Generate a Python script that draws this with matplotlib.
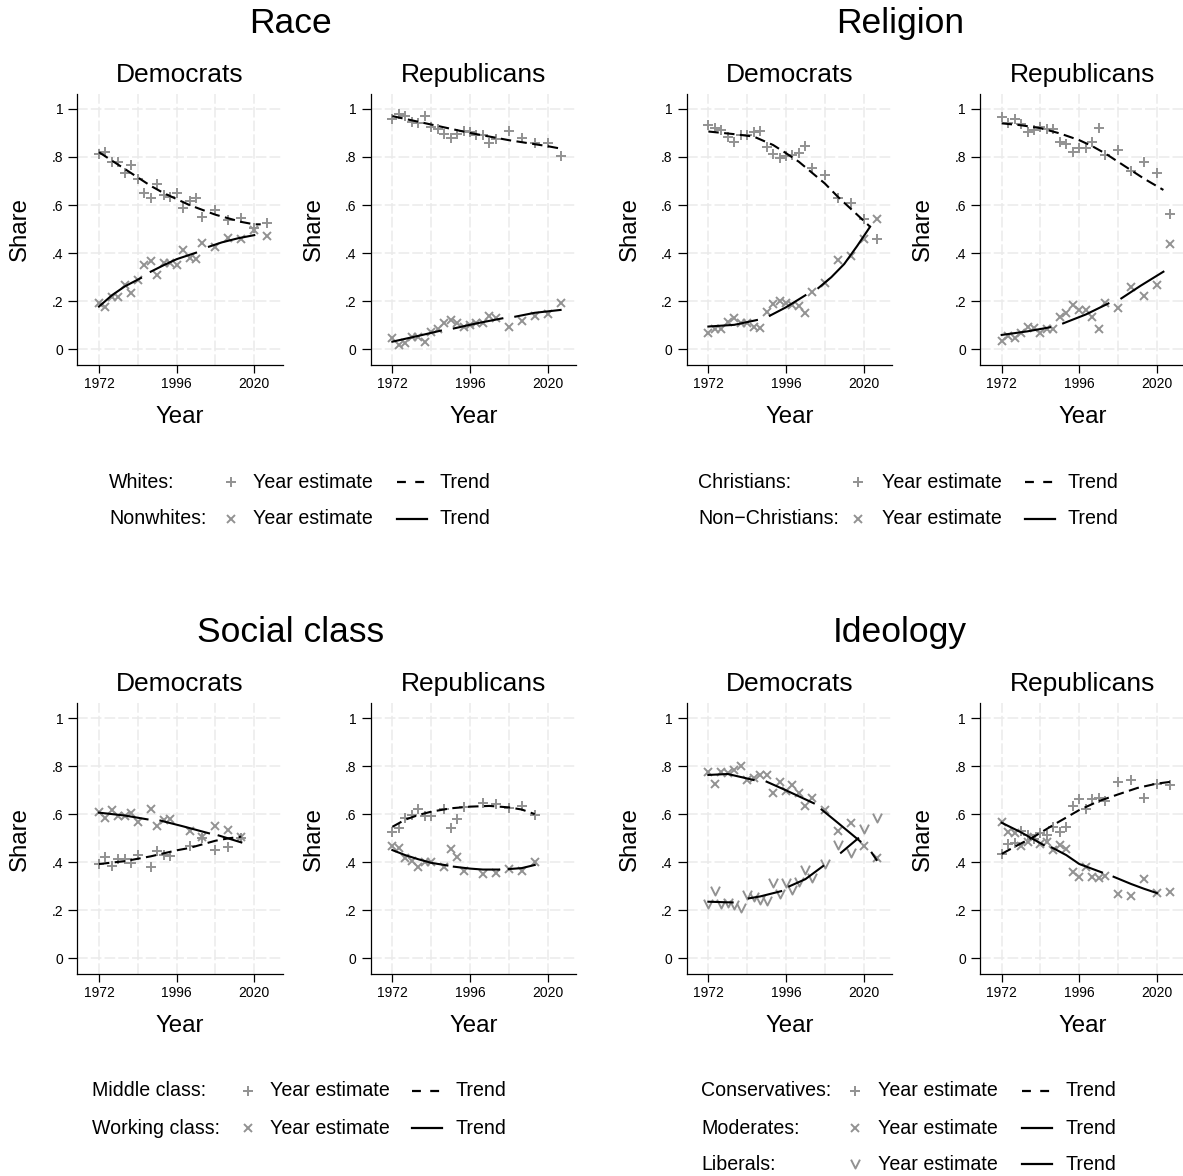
import numpy as np
import matplotlib
matplotlib.use("Agg")
import matplotlib.pyplot as plt
from matplotlib.path import Path
from matplotlib.lines import Line2D

plt.rcParams['font.family'] = ['Liberation Sans', 'DejaVu Sans']

nan = np.nan

# survey years (two-yearly to 2004, then four-yearly)
years = [1972, 1974, 1976, 1978, 1980, 1982, 1984, 1986, 1988, 1990, 1992,
         1994, 1996, 1998, 2000, 2002, 2004, 2008, 2012, 2016, 2020, 2024]
# social class question not asked every year
years_class = [1972, 1974, 1976, 1978, 1980, 1982, 1984, 1988, 1990, 1992,
               1994, 2000, 2004, 2008, 2012, 2016]

# ---------------- Race ----------------
white_dem = [.811, .822, .781, .781, .735, .767, .707, .652, .628, .687, .642,
             .632, .652, .587, .619, .628, .552, .580, .538, .545, .505, .527]
nonwhite_dem = [.194, .178, .216, .216, .268, .236, .288, .351, .369, .309, .358,
                .358, .351, .413, .381, .374, .444, .424, .465, .458, .495, .473]
white_dem_tx = [1972, 1976, 1980, 1984, 1988, 1992, 1996, 2000, 2004, 2008, 2012, 2016, 2020, 2022]
white_dem_ty = [.82, .785, .75, .715, .68, .65, .625, .60, .58, .56, .545, .53, .52, .52]
nonwhite_dem_tx = [1972, 1976, 1980, 1985, 1986, 1988, 1992, 1996, 2002, 2004, 2006, 2010, 2015, 2020]
nonwhite_dem_ty = [.178, .225, .262, .297, nan, .323, .35, .375, .402, nan, .427, .445, .462, .475]

white_rep = [.957, .979, .972, .947, .943, .972, .924, .915, .895, .881, .895,
             .908, .902, .892, .892, .860, .874, .910, .881, .857, .857, .804]
nonwhite_rep = [.046, .018, .028, .053, .050, .029, .074, .083, .108, .122, .108,
                .092, .101, .108, .108, .139, .129, .092, .119, .139, .146, .194]
white_rep_tx = [1972, 1984, 1996, 2008, 2020, 2024]
white_rep_ty = [.97, .935, .90, .87, .845, .835]
nonwhite_rep_tx = [1972, 1980, 1987, 1989, 1991, 1998, 2006, 2008, 2010, 2016, 2024]
nonwhite_rep_ty = [.032, .056, .078, nan, .087, .108, .129, nan, .136, .152, .164]

# ---------------- Religion ----------------
christ_dem = [.933, .922, .913, .885, .864, .892, .892, .902, .908, .843, .813,
              .795, .804, .809, .818, .846, .753, .725, .628, .610, .541, .459]
nonchrist_dem = [.069, .083, .083, .115, .132, .108, .108, .094, .090, .157, .189,
                 .202, .194, .184, .180, .153, .240, .275, .372, .390, .459, .541]
christ_dem_tx = [1972, 1980, 1986, 1992, 1996, 2000, 2004, 2008, 2012, 2016, 2020, 2022]
christ_dem_ty = [.906, .895, .885, .85, .816, .78, .735, .69, .635, .585, .535, .51]
nonchrist_dem_tx = [1972, 1980, 1987, 1989, 1991, 1996, 2002, 2004, 2006, 2010, 2014, 2018, 2022]
nonchrist_dem_ty = [.095, .102, .122, nan, .14, .175, .225, nan, .255, .30, .355, .43, .51]

christ_rep = [.965, .940, .957, .936, .906, .913, .926, .915, .915, .864, .854,
              .822, .836, .836, .864, .920, .809, .829, .742, .781, .735, .563]
nonchrist_rep = [.036, .057, .046, .069, .094, .087, .069, .083, .083, .136, .153,
                 .184, .164, .164, .133, .083, .194, .171, .261, .222, .268, .438]
christ_rep_tx = [1972, 1978, 1984, 1990, 1996, 2000, 2004, 2008, 2012, 2016, 2022]
christ_rep_ty = [.94, .932, .92, .898, .87, .845, .815, .78, .745, .71, .663]
nonchrist_rep_tx = [1972, 1980, 1987, 1989, 1991, 1998, 2005, 2007, 2009, 2015, 2022]
nonchrist_rep_ty = [.06, .075, .092, nan, .108, .145, .191, nan, .212, .265, .323]

# ---------------- Social class ----------------
middle_dem = [.393, .421, .386, .413, .413, .396, .431, .382, .449, .431, .426,
              .470, .500, .450, .465, .500]
working_dem = [.611, .583, .618, .593, .593, .606, .569, .621, .551, .576, .579,
               .530, .504, .551, .535, .504]
middle_dem_tx = [1972, 1980, 1988, 1996, 2000, 2004, 2008, 2012, 2016]
middle_dem_ty = [.393, .405, .425, .45, .46, .475, .49, .50, .507]
working_dem_tx = [1972, 1980, 1987, 1989, 1991, 1998, 2006, 2007, 2009, 2016]
working_dem_ty = [.607, .595, .579, nan, .574, .55, .521, nan, .512, .483]

middle_rep = [.528, .542, .583, .597, .621, .593, .593, .621, .542, .579, .632,
              .649, .643, .625, .635, .597]
working_rep = [.469, .461, .417, .406, .379, .403, .400, .379, .456, .424, .365,
               .351, .354, .372, .364, .400]
middle_rep_tx = [1972, 1976, 1980, 1984, 1990, 1996, 2002, 2008, 2012, 2016]
middle_rep_ty = [.548, .578, .597, .611, .625, .632, .635, .629, .62, .601]
working_rep_tx = [1972, 1976, 1980, 1984, 1989, 1990, 1991, 1996, 2000, 2005, 2006, 2008, 2012, 2016]
working_rep_ty = [.451, .43, .413, .398, .387, nan, .382, .374, .37, .37, nan, .372, .376, .389]

# ---------------- Ideology ----------------
moder_dem = [.778, .726, .778, .771, .786, .800, .743, .750, .764, .764, .690,
             .736, .699, .722, .688, .635, .667, .618, .530, .565, .468, .417]
liber_dem = [.226, .282, .226, .232, .222, .208, .264, .254, .243, .240, .315,
             .268, .313, .285, .319, .368, .333, .393, .472, .438, .537, .583]
moder_dem_tx = [1972, 1978, 1986, 1988, 1990, 1996, 2004.6, 2006, 2007, 2012, 2019, 2021, 2022.5, 2024]
moder_dem_ty = [.764, .768, .743, nan, .736, .70, .646, nan, .62, .565, .487, nan, .44, .41]
liber_dem_tx = [1972, 1979.5, 1982, 1984.5, 1988, 1994.5, 1996, 1997, 2002, 2007.5, 2010, 2013, 2018.3]
liber_dem_ty = [.236, .233, nan, .25, .258, .28, nan, .30, .33, .385, nan, .44, .50]

conserv_rep = [.435, .476, .482, .532, .514, .496, .524, .514, .549, .528, .546,
               .635, .663, .621, .663, .667, .657, .736, .743, .669, .725, .722]
moder_rep = [.569, .528, .521, .468, .486, .504, .476, .486, .451, .472, .454,
             .361, .340, .382, .340, .333, .343, .268, .260, .329, .274, .278]
conserv_rep_tx = [1972, 1976, 1982, 1988, 1996, 2002, 2008, 2014, 2020, 2024]
conserv_rep_ty = [.435, .465, .507, .556, .618, .655, .683, .71, .728, .735]
moder_rep_tx = [1972, 1978, 1985, 1986, 1987.5, 1992, 1996, 2003, 2005, 2006.6, 2012, 2016, 2020]
moder_rep_ty = [.565, .525, .472, nan, .462, .43, .393, .358, nan, .34, .31, .29, .272]

GRAY = '#929292'
vmark = Path([(-0.55, 0.6), (0, -0.5), (0.55, 0.6)], [Path.MOVETO, Path.LINETO, Path.LINETO])
MARKS = {'+': dict(marker='+', ms=7.5, mew=1.4),
         'x': dict(marker='x', ms=6, mew=1.4),
         'v': dict(marker=vmark, ms=7, mew=1.4)}
DASH = (5, 2.6)

W, H = 1183, 1176
fig = plt.figure(figsize=(W / 100, H / 100), dpi=100)


def px(x):
    return x / W


def py(y):
    return 1 - y / H


def make_axes(left, bottom, height):
    ax = fig.add_axes([left / W, bottom, 205.4 / W, height])
    ax.set_xlim(1965.3, 2028.8)
    ax.set_ylim(-0.065, 1.062)
    for s in ['top', 'right']:
        ax.spines[s].set_visible(False)
    for s in ['left', 'bottom']:
        ax.spines[s].set_linewidth(0.9)
    ax.set_xticks([1972, 1996, 2020])
    ax.set_xticks([1984, 2008], minor=True)
    ax.set_yticks([0, .2, .4, .6, .8, 1])
    ax.set_yticklabels(['0', '.2', '.4', '.6', '.8', '1'])
    ax.tick_params(axis='x', which='major', length=5.8, width=0.9, labelsize=10, pad=2.5)
    ax.tick_params(axis='x', which='minor', length=0)
    ax.tick_params(axis='y', length=6.5, width=0.9, labelsize=10, pad=3.6)
    ax.grid(True, which='both', color='#ebebeb', lw=1.1, ls=(0, (7, 2)))
    ax.set_axisbelow(True)
    ax.text(-0.279, 0.5, 'Share', transform=ax.transAxes, rotation=90,
            ha='center', va='center', fontsize=17.3)
    ax.text(0.5, -0.213, 'Year', transform=ax.transAxes,
            ha='center', va='baseline', fontsize=17.3)
    return ax


def draw(ax, series):
    for yrs, pts, mk, tx, ty, dashed in series:
        ax.plot(yrs, pts, ls='none', color=GRAY, mfc='none', zorder=2, **MARKS[mk])
    for yrs, pts, mk, tx, ty, dashed in series:
        if dashed:
            ax.plot(tx, ty, color='black', lw=1.5, dashes=DASH, zorder=3)
        else:
            ax.plot(tx, ty, color='black', lw=1.5, zorder=3)


panels = [
    (77.3, 0, 'Race', 'Democrats', [
        (years, white_dem, '+', white_dem_tx, white_dem_ty, True),
        (years, nonwhite_dem, 'x', nonwhite_dem_tx, nonwhite_dem_ty, False)]),
    (370.7, 0, None, 'Republicans', [
        (years, white_rep, '+', white_rep_tx, white_rep_ty, True),
        (years, nonwhite_rep, 'x', nonwhite_rep_tx, nonwhite_rep_ty, False)]),
    (686.7, 0, 'Religion', 'Democrats', [
        (years, christ_dem, '+', christ_dem_tx, christ_dem_ty, True),
        (years, nonchrist_dem, 'x', nonchrist_dem_tx, nonchrist_dem_ty, False)]),
    (980.0, 0, None, 'Republicans', [
        (years, christ_rep, '+', christ_rep_tx, christ_rep_ty, True),
        (years, nonchrist_rep, 'x', nonchrist_rep_tx, nonchrist_rep_ty, False)]),
    (77.3, 1, 'Social class', 'Democrats', [
        (years_class, middle_dem, '+', middle_dem_tx, middle_dem_ty, True),
        (years_class, working_dem, 'x', working_dem_tx, working_dem_ty, False)]),
    (370.7, 1, None, 'Republicans', [
        (years_class, middle_rep, '+', middle_rep_tx, middle_rep_ty, True),
        (years_class, working_rep, 'x', working_rep_tx, working_rep_ty, False)]),
    (686.7, 1, 'Ideology', 'Democrats', [
        (years, moder_dem, 'x', moder_dem_tx, moder_dem_ty, False),
        (years, liber_dem, 'v', liber_dem_tx, liber_dem_ty, False)]),
    (980.0, 1, None, 'Republicans', [
        (years, conserv_rep, '+', conserv_rep_tx, conserv_rep_ty, True),
        (years, moder_rep, 'x', moder_rep_tx, moder_rep_ty, False)]),
]

rows = {0: (0.68963, 0.23044, 0), 1: (0.17177, 0.2301, 609.4)}
for left, row, group, sub, series in panels:
    bottom, height, off = rows[row]
    ax = make_axes(left, bottom, height)
    draw(ax, series)
    fig.text(px(left + 102.7), py(82 + off), sub, ha='center', va='baseline', fontsize=19)
    if group:
        fig.text(px(left + 213), py(33 + off), group, ha='center', va='baseline', fontsize=25.5)


def legend_row(y, label, xs, mk, dashed):
    x_lab, x_mark, x_txt, x_l0, x_l1, x_tr = xs
    fig.text(px(x_lab), py(y), label, ha='left', va='center', fontsize=14.1)
    fig.add_artist(Line2D([px(x_mark)], [py(y)], ls='none', color=GRAY, mfc='none',
                          transform=fig.transFigure, **MARKS[mk]))
    fig.text(px(x_txt), py(y), 'Year estimate', ha='left', va='center', fontsize=14.1)
    ln = Line2D([px(x_l0), px(x_l1)], [py(y), py(y)], color='black', lw=1.6,
                transform=fig.transFigure)
    if dashed:
        ln.set_dashes((4.0, 4.2))
    fig.add_artist(ln)
    fig.text(px(x_tr), py(y), 'Trend', ha='left', va='center', fontsize=14.1)


race_x = (109, 231, 253, 397, 427, 439)
relig_x = (698, 858, 882, 1025, 1055, 1067)
class_x = (92, 248, 270, 412, 442, 456)
ideol_x = (701, 855, 878, 1022, 1052, 1065)

legend_row(482, 'Whites:', race_x, '+', True)
legend_row(519, 'Nonwhites:', race_x, 'x', False)
legend_row(482, 'Christians:', relig_x, '+', True)
legend_row(519, 'Non\u2212Christians:', relig_x, 'x', False)
legend_row(1091, 'Middle class:', class_x, '+', True)
legend_row(1128, 'Working class:', class_x, 'x', False)
legend_row(1091, 'Conservatives:', ideol_x, '+', True)
legend_row(1128, 'Moderates:', ideol_x, 'x', False)
legend_row(1164, 'Liberals:', ideol_x, 'v', False)

fig.savefig('out.png', dpi=100, facecolor='white')
